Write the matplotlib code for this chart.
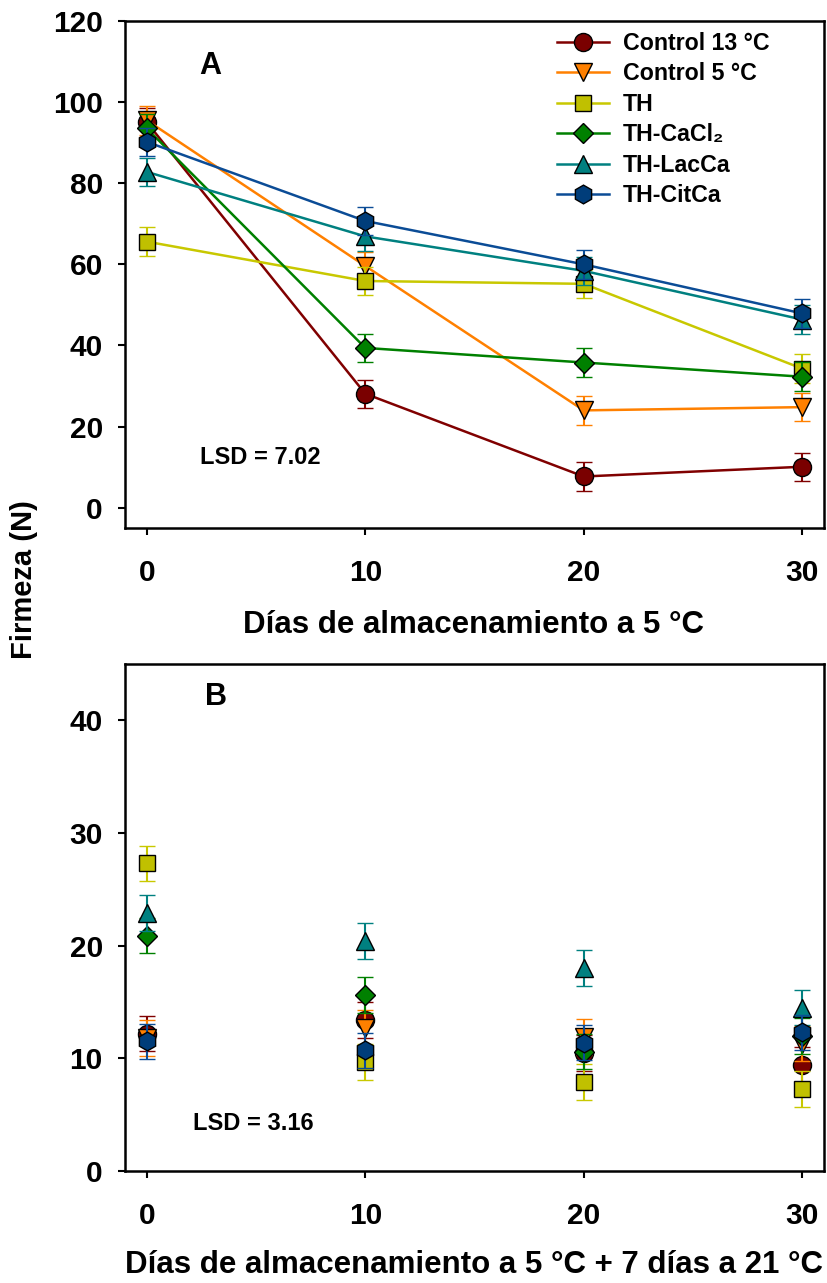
import matplotlib
matplotlib.use('Agg')
import matplotlib.pyplot as plt
from matplotlib.lines import Line2D

plt.rcParams['font.family'] = ['Liberation Sans', 'DejaVu Sans']
plt.rcParams['font.weight'] = 'bold'

days = [0, 10, 20, 30]
labels = ['Control 13 °C', 'Control 5 °C', 'TH', 'TH-CaCl₂', 'TH-LacCa', 'TH-CitCa']

# panel A: firmness during storage at 5 C
a_ctrl13 = [95.0, 28.1, 7.7, 10.1]
a_ctrl5 = [95.5, 59.6, 24.0, 24.8]
a_th = [65.6, 55.9, 55.2, 34.3]
a_cacl2 = [93.5, 39.4, 35.8, 32.3]
a_lacca = [82.8, 66.9, 58.4, 46.4]
a_citca = [90.2, 70.7, 60.0, 47.9]
lsd_a = 7.02

# panel B: after 7 extra days at 21 C
b_ctrl13 = [12.2, 13.4, 10.5, 9.4]
b_ctrl5 = [11.8, 12.7, 11.9, 11.3]
b_th = [27.3, 9.7, 7.9, 7.3]
b_cacl2 = [20.9, 15.6, 10.6, 12.0]
b_lacca = [22.9, 20.4, 18.0, 14.5]
b_citca = [11.5, 10.7, 11.4, 12.3]
lsd_b = 3.16

line_cols = ['#800000', '#FF8000', '#C8C800', '#008000', '#008080', '#0B4C96']
fill_cols = ['#7A0000', '#FF8000', '#C0C000', '#008000', '#008080', '#003D7A']
markers = ['o', 'v', 's', 'D', '^', 'h']
msizes = [13, 13.5, 11.5, 10.5, 13.5, 13.5]

W, H = 828, 1283
fig = plt.figure(figsize=(W / 100, H / 100), dpi=100)

def px_axes(l, t, r, b):
    return fig.add_axes([l / W, 1 - b / H, (r - l) / W, (b - t) / H])

axA = px_axes(125, 21, 824, 528)
axB = px_axes(125, 664, 824, 1171)

series_a = [a_ctrl13, a_ctrl5, a_th, a_cacl2, a_lacca, a_citca]
series_b = [b_ctrl13, b_ctrl5, b_th, b_cacl2, b_lacca, b_citca]

handles = []
for i in range(6):
    style = dict(marker=markers[i], ms=msizes[i], mfc=fill_cols[i], mec='black', mew=1.0)
    axA.errorbar(days, series_a[i], yerr=lsd_a / 2, color=line_cols[i], lw=1.8,
                 ecolor=line_cols[i], elinewidth=1.5, capsize=6, capthick=1.5,
                 zorder=3 + i, **style)
    axB.errorbar(days, series_b[i], yerr=lsd_b / 2, color=line_cols[i], ls='none',
                 ecolor=line_cols[i], elinewidth=1.5, capsize=6, capthick=1.5,
                 zorder=3 + i, **style)
    handles.append(Line2D([], [], color=line_cols[i], lw=1.8, label=labels[i], **style))

for ax in (axA, axB):
    ax.set_xlim(-1, 31)
    ax.set_xticks(days)
    for s in ax.spines.values():
        s.set_linewidth(1.8)
    ax.tick_params(direction='out', length=5, width=1.5, labelsize=21.5)
    ax.tick_params(axis='x', pad=17)
    ax.tick_params(axis='y', pad=11)
    ax.tick_params(top=False, right=False)

axA.set_ylim(-5, 120)
axA.set_yticks(range(0, 121, 20))
axB.set_ylim(0, 45)
axB.set_yticks(range(0, 41, 10))

axA.text(2.92, 109, 'A', fontsize=22, ha='center', va='center')
axB.text(3.15, 42.1, 'B', fontsize=22, ha='center', va='center')
axA.text(2.42, 12.3, 'LSD = 7.02', fontsize=17, ha='left', va='center')
axB.text(2.1, 4.2, 'LSD = 3.16', fontsize=17, ha='left', va='center')

axA.legend(handles=handles, loc='upper left', bbox_to_anchor=(557 / W, 1 - 32 / H),
           bbox_transform=fig.transFigure, frameon=False, fontsize=16.7,
           borderpad=0, borderaxespad=0, handlelength=2.25, handletextpad=0.6,
           labelspacing=0.32)

fig.text(474 / W, 1 - 625 / H, 'Días de almacenamiento a 5 °C', fontsize=22.5,
         ha='center', va='center')
fig.text(474 / W, 1 - 1265 / H, 'Días de almacenamiento a 5 °C + 7 días a 21 °C',
         fontsize=22.5, ha='center', va='center')
fig.text(24 / W, 1 - 580 / H, 'Firmeza (N)', fontsize=21, rotation=90,
         ha='center', va='center')

fig.savefig('out.png', dpi=100)
